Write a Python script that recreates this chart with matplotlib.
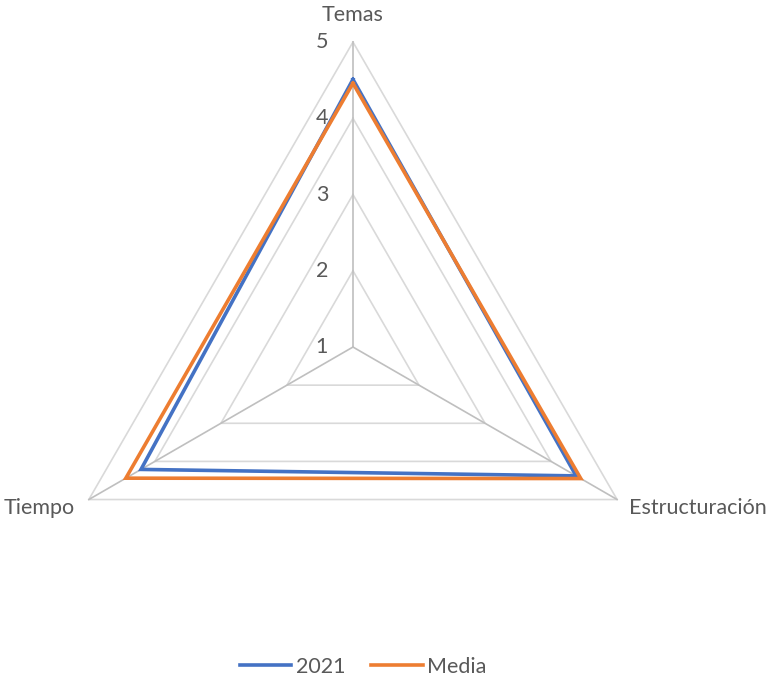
import numpy as np
import matplotlib
matplotlib.use("Agg")
import matplotlib.pyplot as plt

categories = ["Temas", "Estructuración", "Tiempo"]
serie_2021 = [4.51, 4.38, 4.21]
serie_media = [4.46, 4.45, 4.44]
radial_ticks = [1, 2, 3, 4, 5]
series_names = ["2021", "Media"]

plt.rcParams['font.family'] = ['Lato', 'DejaVu Sans']
txt_color = '#595959'
fs = 15.5

fig = plt.figure(figsize=(7.69, 6.78), dpi=100)
ax = fig.add_axes([0.0624, 0.0383, 0.7932, 0.8997], projection='polar')
ax.set_theta_offset(np.pi / 2)
ax.set_theta_direction(-1)
ax.set_ylim(1, 5)
ax.grid(False)
ax.spines['polar'].set_visible(False)
ax.set_xticks([])
ax.set_yticks([])
ax.patch.set_alpha(0)

n = len(categories)
angles = [2 * np.pi * i / n for i in range(n)]
closed = angles + angles[:1]

for v in radial_ticks[1:]:
    ax.plot(closed, [v] * (n + 1), color='#d9d9d9', lw=1.2, zorder=1, clip_on=False)
for a in angles:
    ax.plot([a, a], [radial_ticks[0], radial_ticks[-1]], color='#bfbfbf',
            lw=1.2, zorder=1, clip_on=False)

colors = ['#4472C4', '#ED7D31']
handles = []
for vals, name, c in zip([serie_2021, serie_media], series_names, colors):
    h, = ax.plot(closed, vals + vals[:1], color=c, lw=2.6, zorder=3, clip_on=False,
                 solid_joinstyle='miter', label=name)
    handles.append(h)

for v in radial_ticks:
    ax.annotate(str(v), xy=(0, v), xytext=(-31, 0), textcoords='offset pixels',
                ha='center', va='center', fontsize=fs, color=txt_color)

offsets = [((0, 27), 'center', 'center'), ((12, -8), 'left', 'center'), ((-14, -8), 'right', 'center')]
for cat, a, (off, ha, va) in zip(categories, angles, offsets):
    ax.annotate(cat, xy=(a, radial_ticks[-1]), xytext=off, textcoords='offset pixels',
                ha=ha, va=va, fontsize=fs, color=txt_color, annotation_clip=False)

leg = fig.legend(handles=handles, loc='center', bbox_to_anchor=(0.472, 1 - 667 / 678), ncol=2,
                 frameon=False, handlelength=2.4, handletextpad=0.2, columnspacing=1.2,
                 fontsize=fs)
for t in leg.get_texts():
    t.set_color(txt_color)

fig.savefig('out.png', dpi=100)
